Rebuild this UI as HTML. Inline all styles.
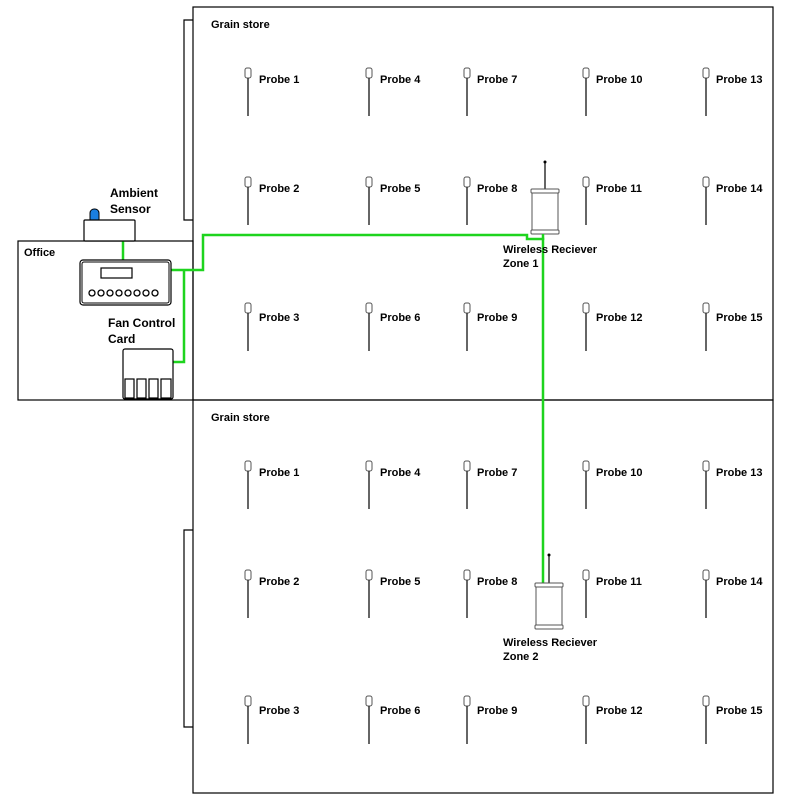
<!DOCTYPE html>
<html><head><style>
body{margin:0;background:#fff;}
svg text{font-family:"Liberation Sans",sans-serif;font-weight:bold;font-size:11px;fill:#000;}
</style></head><body>
<svg width="800" height="800" xmlns="http://www.w3.org/2000/svg">
<defs>
<g id="probe">
<rect x="-3" y="0" width="6" height="10" rx="2" fill="#fff" stroke="#555" stroke-width="1"/>
<line x1="0" y1="10" x2="0" y2="48" stroke="#333" stroke-width="1.5"/>
</g>
<g id="probes">
<use href="#probe" x="248" y="68"/><text x="259" y="83">Probe 1</text>
<use href="#probe" x="369" y="68"/><text x="380" y="83">Probe 4</text>
<use href="#probe" x="467" y="68"/><text x="477" y="83">Probe 7</text>
<use href="#probe" x="586" y="68"/><text x="596" y="83">Probe 10</text>
<use href="#probe" x="706" y="68"/><text x="716" y="83">Probe 13</text>
<use href="#probe" x="248" y="177"/><text x="259" y="192">Probe 2</text>
<use href="#probe" x="369" y="177"/><text x="380" y="192">Probe 5</text>
<use href="#probe" x="467" y="177"/><text x="477" y="192">Probe 8</text>
<use href="#probe" x="586" y="177"/><text x="596" y="192">Probe 11</text>
<use href="#probe" x="706" y="177"/><text x="716" y="192">Probe 14</text>
<use href="#probe" x="248" y="303"/><text x="259" y="321">Probe 3</text>
<use href="#probe" x="369" y="303"/><text x="380" y="321">Probe 6</text>
<use href="#probe" x="467" y="303"/><text x="477" y="321">Probe 9</text>
<use href="#probe" x="586" y="303"/><text x="596" y="321">Probe 12</text>
<use href="#probe" x="706" y="303"/><text x="716" y="321">Probe 15</text>
</g>
</defs>
<!-- walls -->
<polyline points="193,20 184,20 184,220 193,220" fill="none" stroke="#000" stroke-width="1.2"/>
<polyline points="193,530 184,530 184,727 193,727" fill="none" stroke="#000" stroke-width="1.2"/>
<rect x="193" y="7" width="580" height="393" fill="none" stroke="#000" stroke-width="1.2"/>
<rect x="193" y="400" width="580" height="393" fill="none" stroke="#000" stroke-width="1.2"/>
<rect x="18" y="241" width="175" height="159" fill="none" stroke="#000" stroke-width="1.2"/>
<text x="211" y="28">Grain store</text>
<text x="211" y="421">Grain store</text>
<text x="24" y="256">Office</text>
<use href="#probes"/>
<use href="#probes" y="393"/>
<!-- green wires -->
<polyline points="123,241 123,260" fill="none" stroke="#1ed41e" stroke-width="2.5"/>
<polyline points="171,270 203,270 203,235 527,235 527,239 543,239 543,584" fill="none" stroke="#1ed41e" stroke-width="2.5"/>
<polyline points="173,362 184,362 184,270" fill="none" stroke="#1ed41e" stroke-width="2.5"/>
<!-- ambient sensor -->
<rect x="90" y="209" width="9" height="14" rx="4" fill="#1a7fe0" stroke="#000"/>
<rect x="84" y="220" width="51" height="21" rx="1" fill="#fff" stroke="#000" stroke-width="1.2"/>
<text x="110" y="197" style="font-size:12px">Ambient</text>
<text x="110" y="213" style="font-size:12px">Sensor</text>
<!-- controller -->
<rect x="80" y="260" width="91" height="45" rx="3" fill="#fff" stroke="#000" stroke-width="1.2"/>
<rect x="82" y="262" width="87" height="41" rx="2" fill="none" stroke="#000" stroke-width="1"/>
<rect x="101" y="268" width="31" height="10" fill="#fff" stroke="#000" stroke-width="1.2"/>
<g fill="none" stroke="#000" stroke-width="1.3">
<circle cx="92" cy="293" r="3"/><circle cx="101" cy="293" r="3"/><circle cx="110" cy="293" r="3"/><circle cx="119" cy="293" r="3"/><circle cx="128" cy="293" r="3"/><circle cx="137" cy="293" r="3"/><circle cx="146" cy="293" r="3"/><circle cx="155" cy="293" r="3"/>
</g>
<text x="108" y="327" style="font-size:12px">Fan Control</text>
<text x="108" y="343" style="font-size:12px">Card</text>
<rect x="123" y="349" width="50" height="50" rx="2" fill="#fff" stroke="#000" stroke-width="1.2"/>
<g fill="none" stroke="#000" stroke-width="1.2">
<rect x="125" y="379" width="9" height="19"/><rect x="137" y="379" width="9" height="19"/><rect x="149" y="379" width="9" height="19"/><rect x="161" y="379" width="10" height="19"/>
</g>
<!-- receiver 1 -->
<line x1="545" y1="162" x2="545" y2="190" stroke="#000" stroke-width="1.2"/><circle cx="545" cy="162" r="1.5"/>
<rect x="532" y="191" width="26" height="40" fill="#fff" stroke="#555"/>
<rect x="531" y="189" width="28" height="4" rx="1" fill="#fff" stroke="#555"/>
<rect x="531" y="230" width="28" height="4" rx="1" fill="#fff" stroke="#555"/>
<line x1="543" y1="234" x2="543" y2="240" stroke="#1ed41e" stroke-width="2.5"/>
<text x="503" y="253">Wireless Reciever</text>
<text x="503" y="267">Zone 1</text>
<!-- receiver 2 -->
<line x1="549" y1="555" x2="549" y2="584" stroke="#000" stroke-width="1.2"/><circle cx="549" cy="555" r="1.5"/>
<rect x="536" y="585" width="26" height="42" fill="#fff" stroke="#555"/>
<rect x="535" y="583" width="28" height="4" rx="1" fill="#fff" stroke="#555"/>
<rect x="535" y="625" width="28" height="4" rx="1" fill="#fff" stroke="#555"/>
<text x="503" y="646">Wireless Reciever</text>
<text x="503" y="660">Zone 2</text>
</svg>
</body></html>
